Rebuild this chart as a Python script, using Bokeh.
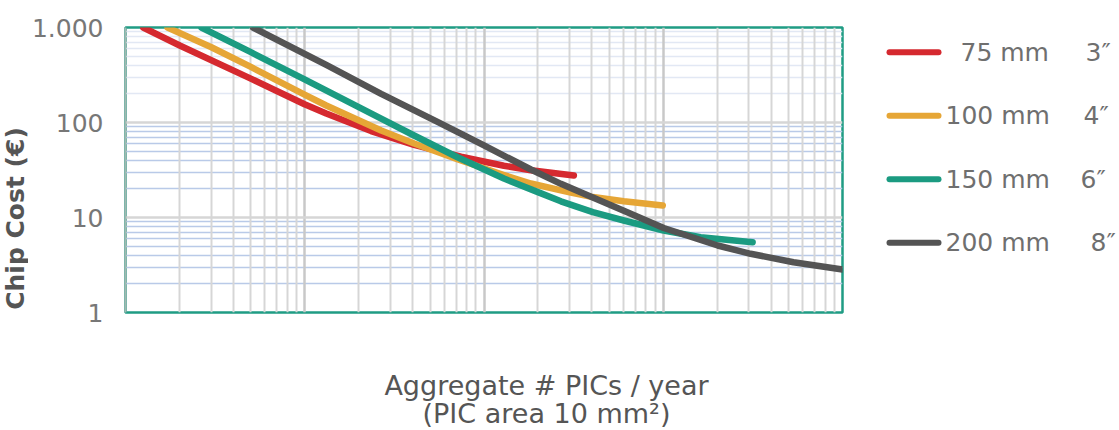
import math
from bokeh.plotting import figure
from bokeh.models import Range1d, FixedTicker, Grid
from bokeh.layouts import row, column
from bokeh.core.properties import value
from bokeh.embed import file_html
from bokeh.resources import INLINE

# ---------------- data ----------------
series_names = ["75 mm", "100 mm", "150 mm", "200 mm"]
series_inches = ["3″", "4″", "6″", "8″"]
series_colors = ["#d5292f", "#e6a636", "#1b9b81", "#545454"]

x_75 = [1255, 2007, 5035, 9975, 13180, 23440, 40740, 74470, 129200, 182700, 317200]
y_75 = [1000, 646, 288, 155.5, 124.4, 81.2, 58.1, 43.6, 35.1, 31.4, 27.7]

x_100 = [1714, 3014, 5035, 9975, 13180, 26690, 40740, 71650, 129200, 182700, 305200, 404800, 602500, 993600]
y_100 = [1000, 620, 382, 197, 151, 82.4, 60.1, 40.8, 28.0, 22.8, 18.3, 16.4, 14.8, 13.4]

x_150 = [2651, 5035, 9975, 26690, 40740, 71650, 129200, 199900, 268500, 404800, 602500, 1006000, 1618000, 3152000]
y_150 = [1000, 546, 284, 110, 73, 42.8, 25.7, 18.5, 14.8, 11.4, 9.3, 7.3, 6.2, 5.5]

x_200 = [5145, 13180, 26690, 55410, 100000, 182700, 268500, 404800, 602500, 1006000, 2012000, 3072000, 5333000, 10000000]
y_200 = [1000, 404, 200, 101, 57.3, 32.0, 22.6, 16.2, 11.8, 7.75, 5.07, 4.15, 3.38, 2.84]

y_tick_values = [1, 10, 100, 1000]
y_tick_labels = ["1", "10", "100", "1.000"]

y_title = "Chip Cost (€)"
x_title_lines = ["Aggregate # PICs / year", "(PIC area 10 mm²)"]

x_start, x_end = 1e3, 1e7
y_start, y_end = 1, 1000

# ---------------- layout constants ----------------
FONT = "DejaVu Sans"
ROW_H = 334
FRAME_TOP = 27
FRAME_BOTTOM = 312
TITLE_W = 28
AXIS_W = 96
FRAME_W = 718
MAIN_W = AXIS_W + FRAME_W + 16
LEG_W = 260
TOTAL_W = TITLE_W + MAIN_W + LEG_W
BOT_H = 95


def clear(fig):
    fig.xgrid.visible = False
    fig.ygrid.visible = False
    fig.background_fill_color = "white"
    fig.border_fill_color = "white"


# ---------------- main plot ----------------
p = figure(width=MAIN_W, height=ROW_H, x_axis_type="log", y_axis_type="log",
           x_range=Range1d(x_start, x_end), y_range=Range1d(y_start, y_end),
           x_axis_location=None, toolbar_location=None, output_backend="svg",
           min_border_left=AXIS_W, min_border_right=16, min_border_top=FRAME_TOP,
           min_border_bottom=ROW_H - FRAME_BOTTOM)
clear(p)
p.outline_line_color = "#1f9c84"
p.outline_line_width = 2.5

decades_x = [10 ** k for k in range(3, 8)]
minor_x = [m * d for d in decades_x[:-1] for m in range(2, 10)]
minor_y_low = [m * d for d in (1, 10) for m in range(2, 10)]
minor_y_high = [m * 100 for m in range(2, 10)]

p.add_layout(Grid(dimension=1, ticker=FixedTicker(ticks=minor_y_high),
                  grid_line_color="#e2e8f4", grid_line_width=1.6))
p.add_layout(Grid(dimension=1, ticker=FixedTicker(ticks=minor_y_low),
                  grid_line_color="#b9cae8", grid_line_width=1.6))
p.add_layout(Grid(dimension=0, ticker=FixedTicker(ticks=minor_x),
                  grid_line_color="#d6d6d6", grid_line_width=2))
p.add_layout(Grid(dimension=0, ticker=FixedTicker(ticks=decades_x),
                  grid_line_color="#c8c8c8", grid_line_width=2.5))
p.add_layout(Grid(dimension=1, ticker=FixedTicker(ticks=[10, 100]),
                  grid_line_color="#d6d6d6", grid_line_width=2.5))

ax = p.yaxis[0]
ax.ticker = FixedTicker(ticks=y_tick_values, minor_ticks=[])
ax.major_label_overrides = {v: l for v, l in zip(y_tick_values, y_tick_labels)}
ax.major_label_text_font = FONT
ax.major_label_text_font_size = "25px"
ax.major_label_text_color = "#777777"
ax.major_label_standoff = 22
ax.major_tick_out = 0
ax.major_tick_in = 0
ax.minor_tick_out = 0
ax.minor_tick_in = 0
ax.axis_line_color = "#a3b8b2"
ax.axis_line_width = 2

all_x = [x_75, x_100, x_150, x_200]
all_y = [y_75, y_100, y_150, y_200]
for xs, ys, c in zip(all_x, all_y, series_colors):
    p.line(xs, ys, line_color=c, line_width=6.5, line_cap="round", line_join="round")

# ---------------- left strip: y title (pixel-like coordinates) ----------------
yl = figure(width=TITLE_W, height=ROW_H,
            x_range=Range1d(0, TITLE_W), y_range=Range1d(FRAME_BOTTOM, FRAME_TOP),
            x_axis_location=None, y_axis_location=None,
            toolbar_location=None, output_backend="svg", min_border=0,
            min_border_top=FRAME_TOP, min_border_bottom=ROW_H - FRAME_BOTTOM)
clear(yl)
yl.outline_line_color = None
yl.text(x=[14.5], y=[218], text=[y_title], angle=math.pi / 2,
        text_font=value(FONT), text_font_style="bold", text_font_size="25px",
        text_color="#555555", text_align="center", text_baseline="middle")

# ---------------- legend strip (pixel-like coordinates) ----------------
q = figure(width=LEG_W, height=ROW_H, x_range=Range1d(0, LEG_W),
           y_range=Range1d(FRAME_BOTTOM, FRAME_TOP),
           toolbar_location=None, output_backend="svg", min_border=0,
           min_border_top=FRAME_TOP, min_border_bottom=ROW_H - FRAME_BOTTOM,
           x_axis_location=None, y_axis_location=None)
clear(q)
q.outline_line_color = None
n = len(series_names)
row_y = [51.7 + 63.5 * i for i in range(n)]
name_x = [102, 87, 87, 87]
inch_x = [227, 225, 222, 232]
q.segment(x0=[31] * n, y0=row_y, x1=[80] * n, y1=row_y, line_color=series_colors,
          line_width=6, line_cap="round")
q.text(x=name_x, y=row_y, text=series_names, text_font=value(FONT),
       text_font_size="25px", text_color="#6f6f6f", text_baseline="middle",
       text_align="left")
q.text(x=inch_x, y=row_y, text=series_inches, text_font=value(FONT),
       text_font_size="25px", text_color="#6f6f6f", text_baseline="middle",
       text_align="left")

# ---------------- bottom strip: x title ----------------
b = figure(width=TOTAL_W, height=BOT_H, x_range=Range1d(0, TOTAL_W), y_range=Range1d(BOT_H, 0),
           toolbar_location=None, output_backend="svg", min_border=0,
           x_axis_location=None, y_axis_location=None)
clear(b)
b.outline_line_color = None
b.text(x=[546, 546], y=[385 - ROW_H, 413 - ROW_H], text=x_title_lines, text_font=value(FONT),
       text_font_size="27px", text_color="#555555", text_align="center",
       text_baseline="middle")

layout = column(row(yl, p, q), b)
open("out.html", "w").write(file_html(layout, INLINE))
